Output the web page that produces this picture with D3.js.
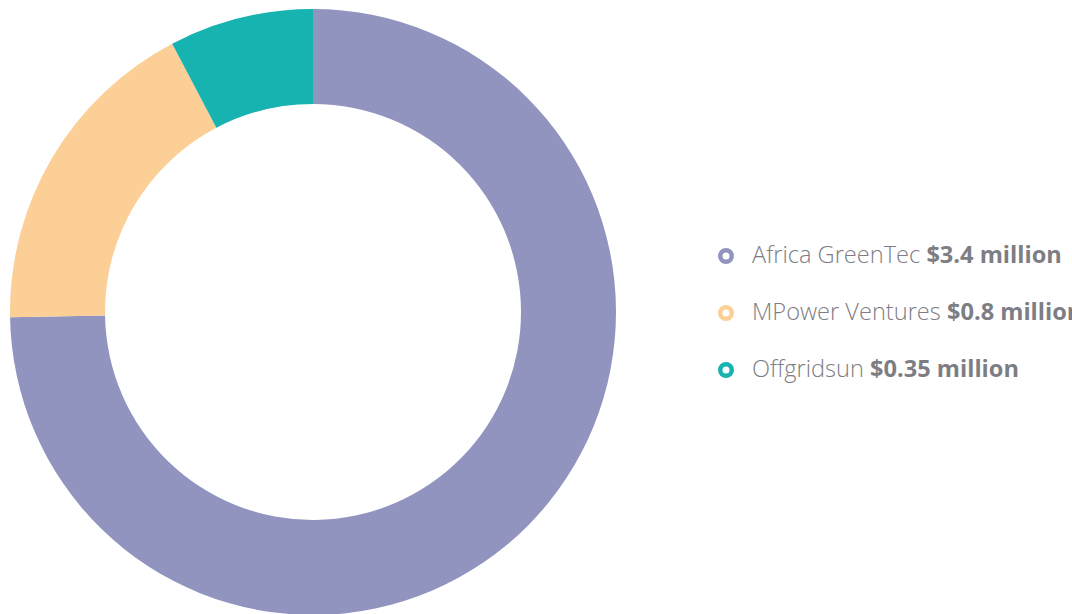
<!DOCTYPE html>
<html><head><meta charset="utf-8">
<script src="https://cdn.jsdelivr.net/npm/d3@7"></script>
<style>html,body{margin:0;padding:0;background:#fff;overflow:hidden}</style>
</head><body>
<svg id="c" width="1072" height="614"></svg>
<script>
const categories = ["Africa GreenTec", "MPower Ventures", "Offgridsun"];
const values = [3.4, 0.8, 0.35];
const valueLabels = ["$3.4 million", "$0.8 million", "$0.35 million"];
const colors = ["#9294c0", "#fccf96", "#17b3b0"];

const svg = d3.select("#c");
const cx = 313, cy = 312, R = 303, r = 208;
const pie = d3.pie().sort(null).value(d => d)(values);
const arc = d3.arc().innerRadius(r).outerRadius(R);
const g = svg.append("g").attr("transform", `translate(${cx},${cy})`);
g.selectAll("path").data(pie).join("path")
  .attr("d", arc).attr("fill", (d, i) => colors[i]);

const y = d3.scalePoint().domain(categories).range([256, 370]);
const lg = svg.append("g");
const rows = lg.selectAll("g").data(categories).join("g")
  .attr("transform", d => `translate(0,${y(d)})`);
rows.append("circle").attr("cx", 726).attr("cy", 0).attr("r", 5.75)
  .attr("fill", "none").attr("stroke", (d, i) => colors[i]).attr("stroke-width", 4.5);
const t = rows.append("text").attr("x", 752).attr("y", 7)
  .attr("font-family", "'Open Sans', sans-serif").attr("font-size", 23.6)
  .attr("fill", "#7d7d84");
t.append("tspan").attr("font-weight", 300).text(d => d + " ");
t.append("tspan").attr("font-weight", 700).text((d, i) => valueLabels[i]);
</script>
</body></html>
